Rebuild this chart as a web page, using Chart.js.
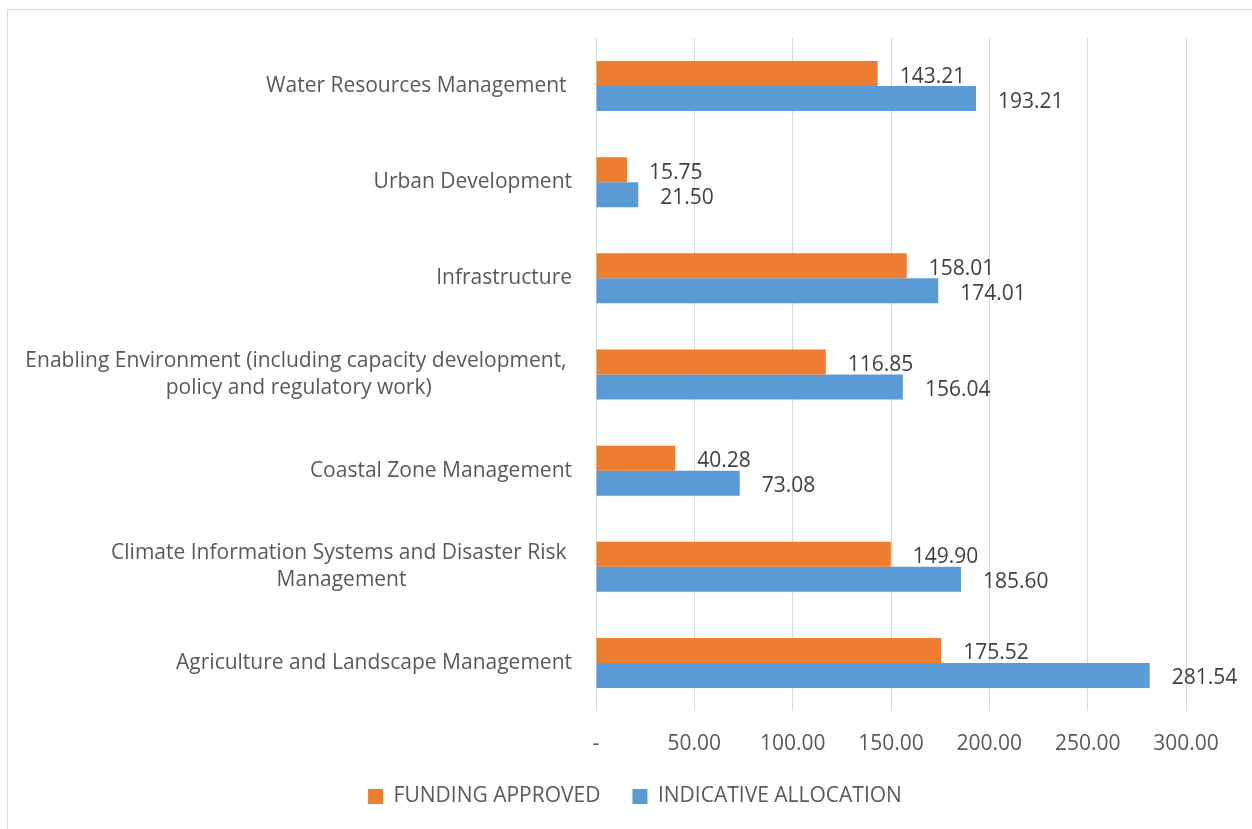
<!DOCTYPE html>
<html>
<head>
<meta charset="utf-8">
<script src="https://cdn.jsdelivr.net/npm/chart.js@4.4.1/dist/chart.umd.min.js"></script>
<style>
  html, body { margin:0; padding:0; background:#fff; overflow:hidden; }
  #frame { position:absolute; left:7px; top:9px; width:1300px; height:900px; border:1px solid #d9d9d9; }
  #wrap { position:absolute; left:0; top:0; width:1252px; height:829px; }
</style>
</head>
<body>
<div id="frame"></div>
<div id="wrap"><canvas id="chart"></canvas></div>
<script>
// categories, top to bottom (multi-line labels as arrays)
const categories = [
  ['Water Resources Management '],
  ['Urban Development'],
  ['Infrastructure'],
  ['Enabling Environment (including capacity development, ', 'policy and regulatory work)'],
  ['Coastal Zone Management'],
  ['Climate Information Systems and Disaster Risk ', 'Management'],
  ['Agriculture and Landscape Management']
];
const fundingApproved = [143.21, 15.75, 158.01, 116.85, 40.28, 149.90, 175.52];
const indicativeAllocation = [193.21, 21.50, 174.01, 156.04, 73.08, 185.60, 281.54];
const seriesNames = ['FUNDING APPROVED', 'INDICATIVE ALLOCATION'];
const seriesColors = ['#ED7D31', '#5B9BD5'];
const xTicks = [0, 50, 100, 150, 200, 250, 300];

const FONT = '"Open Sans", "Noto Sans", sans-serif';
const TEXT = '#595959';
const LABEL_RIGHT = 572; // right edge of category labels

// category labels: single lines right-aligned, wrapped lines centred as a block
const catLabels = {
  id: 'catLabels',
  afterDraw(chart){
    const {ctx} = chart;
    const y = chart.scales.y;
    ctx.save();
    ctx.font = '21px ' + FONT;
    ctx.fillStyle = TEXT;
    ctx.textAlign = 'center';
    ctx.textBaseline = 'middle';
    categories.forEach((lines, i)=>{
      const cy = y.getPixelForValue(i);
      const w = Math.max(...lines.map(l=>ctx.measureText(l).width));
      const cx = LABEL_RIGHT - w/2;
      lines.forEach((l, j)=> ctx.fillText(l, cx, cy + (j - (lines.length-1)/2) * 27));
    });
    ctx.restore();
  }
};

// value labels just past the end of each bar
const valueLabels = {
  id: 'valueLabels',
  afterDatasetsDraw(chart){
    const {ctx} = chart;
    ctx.save();
    ctx.font = '21px ' + FONT;
    ctx.fillStyle = '#404040';
    ctx.textAlign = 'left';
    ctx.textBaseline = 'middle';
    chart.data.datasets.forEach((ds, di)=>{
      chart.getDatasetMeta(di).data.forEach((bar, i)=>{
        ctx.fillText(ds.data[i].toFixed(2), bar.x + 22, bar.y + 3);
      });
    });
    ctx.restore();
  }
};

new Chart(document.getElementById('chart'), {
  type: 'bar',
  data: {
    labels: categories,
    datasets: [
      { label: seriesNames[0], data: fundingApproved, backgroundColor: seriesColors[0] },
      { label: seriesNames[1], data: indicativeAllocation, backgroundColor: seriesColors[1] }
    ]
  },
  options: {
    indexAxis: 'y',
    responsive: true,
    maintainAspectRatio: false,
    animation: false,
    categoryPercentage: 0.52,
    barPercentage: 1.0,
    layout: { padding: { top: 38, right: 66, bottom: 12, left: 84 } },
    plugins: {
      tooltip: { enabled: false },
      legend: {
        position: 'bottom',
        labels: {
          boxWidth: 15, boxHeight: 15, padding: 32,
          color: TEXT, font: { family: FONT, size: 21 }
        }
      }
    },
    scales: {
      x: {
        min: 0, max: 300,
        afterBuildTicks: s => { s.ticks = xTicks.map(v=>({value:v})); },
        afterFit: s => { s.height = 43; },
        grid: { color: '#d9d9d9', lineWidth: 1, drawTicks: false },
        border: { display: false },
        ticks: {
          padding: 23, color: TEXT,
          font: { family: FONT, size: 21, lineHeight: 1 },
          callback: v => v === 0 ? '-' : v.toFixed(2)
        }
      },
      y: {
        grid: { display: false },
        border: { display: false },
        ticks: { display: false },
        afterFit: s => { s.width = 596 - 84; }
      }
    }
  },
  plugins: [catLabels, valueLabels]
});
</script>
</body>
</html>
